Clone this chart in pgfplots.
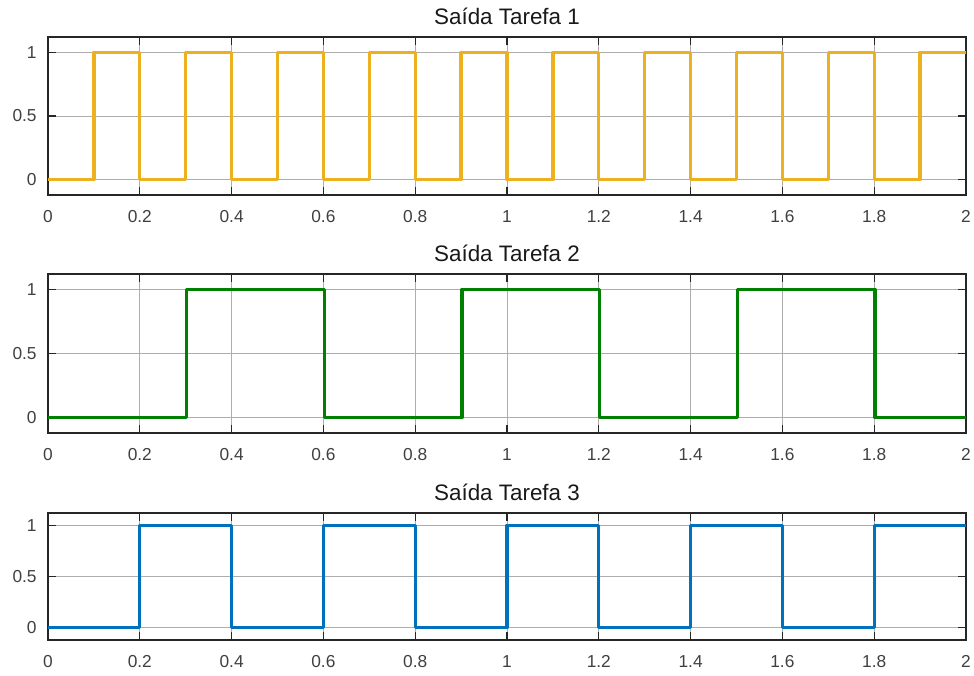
\documentclass[border=0pt]{standalone}
\usepackage{pgfplots}
\pgfplotsset{compat=1.18}
\usepackage{fontspec}
\setmainfont{Liberation Sans}
\definecolor{morange}{RGB}{237,177,32}
\definecolor{mgreen}{RGB}{0,128,0}
\definecolor{mblue}{RGB}{0,114,189}
\definecolor{maxis}{RGB}{38,38,38}
\definecolor{mtick}{RGB}{64,64,64}
\pgfplotsset{
  mstyle/.style={
    scale only axis,
    width=688.5pt,
    xmin=0, xmax=2, ymin=-0.12, ymax=1.12,
    xtick={0,0.2,...,2.01},
    ytick={0,0.5,1},
    grid=major,
    major grid style={draw=black!32, line width=0.7pt},
    axis line style={draw=maxis, line width=0.8pt},
    tick style={draw=maxis, line width=0.8pt},
    major tick length=6pt,
    tick align=inside,
    tick pos=both,
    /pgf/number format/assume math mode=true,
    ticklabel style={font=\fontsize{13}{15}\selectfont, text=mtick},
    xticklabel style={yshift=-8pt},
    yticklabel style={xshift=-5pt},
    title style={font=\fontsize{16.8}{19}\selectfont, text=black!90, yshift=-0.5pt},
    every axis plot/.append style={const plot, line width=2.5pt, line join=round},
  }
}
\begin{document}
\begin{tikzpicture}
\path[use as bounding box] (0,0) rectangle (730.5pt,506.25pt);
% axis 1
\begin{axis}[mstyle, at={(36pt,360pt)}, anchor=south west, height=118.5pt, title={Saída Tarefa 1}]
\addplot[morange] coordinates {(0,0)(0.1,1)(0.2,0)(0.3,1)(0.4,0)(0.5,1)(0.6,0)(0.7,1)(0.8,0)(0.9,1)(1.0,0)(1.1,1)(1.2,0)(1.3,1)(1.4,0)(1.5,1)(1.6,0)(1.7,1)(1.8,0)(1.9,1)(2.0,1)};
\end{axis}
% axis 2
\begin{axis}[mstyle, at={(36pt,181.5pt)}, anchor=south west, height=119.25pt, title={Saída Tarefa 2}]
\addplot[mgreen] coordinates {(0,0)(0.302,1)(0.602,0)(0.902,1)(1.202,0)(1.502,1)(1.802,0)(2,0)};
\end{axis}
% axis 3
\begin{axis}[mstyle, at={(36pt,26.25pt)}, anchor=south west, height=95.25pt, title={Saída Tarefa 3}]
\addplot[mblue] coordinates {(0,0)(0.2,1)(0.4,0)(0.6,1)(0.8,0)(1.0,1)(1.2,0)(1.4,1)(1.6,0)(1.8,1)(2,1)};
\end{axis}
\end{tikzpicture}
\end{document}
